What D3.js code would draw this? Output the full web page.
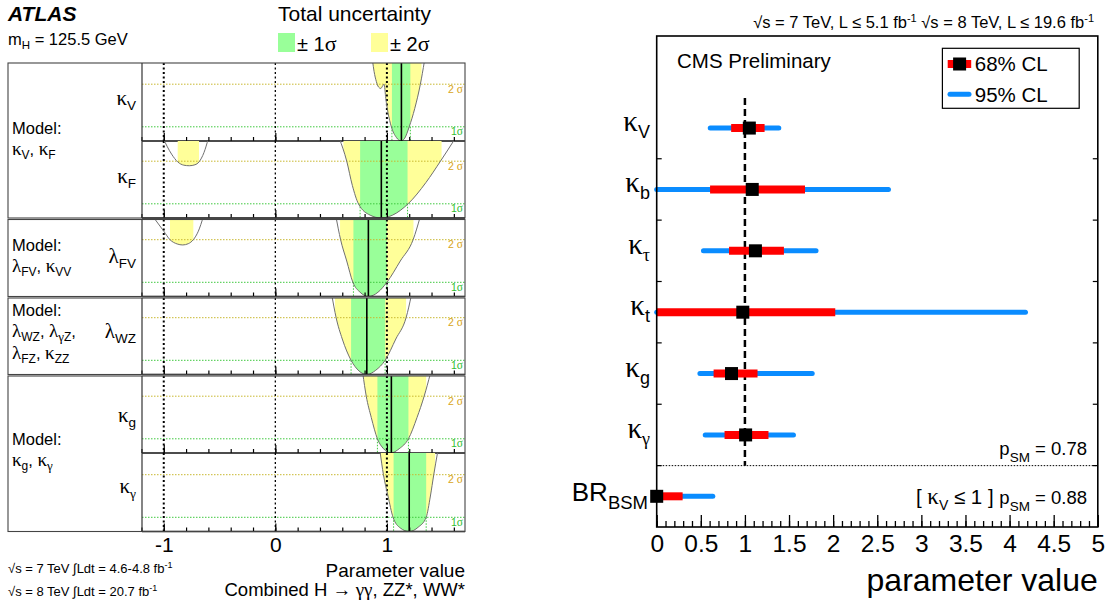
<!DOCTYPE html>
<html><head><meta charset="utf-8">
<script src="https://cdn.jsdelivr.net/npm/d3@7"></script>
<style>body{margin:0;background:#fff}svg{display:block}text{font-family:"Liberation Sans",Arial,sans-serif}</style>
</head><body><svg id="c" width="1113" height="605"></svg>
<script>
// ---------------- ATLAS data ----------------
const atlasParams = ["κV", "κF", "λFV", "λWZ", "κg", "κγ"];
const atlasBest = [1.13, 0.95, 0.834, 0.82, 1.04, 1.20];
const atlasOneSigma = [[[1.045, 1.21]], [[0.76, 1.185]], [[0.70, 1.0]], [[0.679, 0.984]], [[0.915, 1.193]], [[1.06, 1.352]]];
const atlasTwoSigma = [[[0.87, 1.31]], [[-0.875, -0.684], [0.61, 1.49]], [[-0.944, -0.735], [0.58, 1.238]], [[0.535, 1.172]], [[0.795, 1.352]], [[0.945, 1.432]]];
const atlasScanKV = [[[0.872, 5.6], [0.885, 4.9], [0.905, 4.2], [0.925, 3.8], [0.945, 3.7], [0.96, 3.85], [0.975, 4.0], [0.99, 3.0], [1.01, 2.0], [1.04, 1.0], [1.085, 0.25], [1.127, 0], [1.16, 0.2], [1.20, 1.0], [1.25, 2.3], [1.30, 4.0], [1.336, 5.6]]];
const atlasScanKF = [[[-1.005, 5.6], [-0.93, 4.5], [-0.875, 3.95], [-0.82, 3.72], [-0.771, 3.68], [-0.72, 3.75], [-0.684, 3.95], [-0.64, 4.6], [-0.60, 5.6]],
                     [[0.574, 5.6], [0.64, 4.0], [0.69, 2.3], [0.745, 1.0], [0.85, 0.2], [0.95, 0], [1.05, 0.2], [1.19, 1.0], [1.35, 2.5], [1.48, 4.0], [1.612, 5.6]]];
const atlasScanLFV = [[[-1.094, 5.6], [-1.0, 4.6], [-0.944, 4.0], [-0.88, 3.7], [-0.83, 3.63], [-0.78, 3.72], [-0.735, 4.0], [-0.69, 4.6], [-0.646, 5.6]],
                      [[0.544, 5.6], [0.585, 4.0], [0.64, 2.5], [0.695, 1.0], [0.76, 0.3], [0.834, 0], [0.92, 0.3], [1.0, 1.0], [1.12, 2.5], [1.235, 4.0], [1.298, 5.6]]];
const atlasScanLWZ = [[[0.506, 5.6], [0.545, 4.0], [0.60, 2.5], [0.679, 1.0], [0.75, 0.25], [0.82, 0], [0.90, 0.3], [0.984, 1.0], [1.08, 2.5], [1.172, 4.0], [1.22, 5.6]]];
const atlasScanKG = [[[0.784, 5.6], [0.815, 4.0], [0.86, 2.5], [0.915, 1.0], [0.97, 0.3], [1.035, 0], [1.11, 0.3], [1.193, 1.0], [1.27, 2.5], [1.334, 4.0], [1.39, 5.6]]];
const atlasScanKGam = [[[0.939, 5.6], [0.969, 4.0], [1.01, 2.5], [1.055, 1.0], [1.12, 0.25], [1.20, 0], [1.28, 0.3], [1.352, 1.0], [1.39, 2.5], [1.42, 4.0], [1.455, 5.6]]];
const atlasScans = [atlasScanKV, atlasScanKF, atlasScanLFV, atlasScanLWZ, atlasScanKG, atlasScanKGam];
const atlasSMValues = [-1, 0, 1];
const atlasTickLabels = ["-1", "0", "1"];
const atlasSigmaLevels = [1, 4];

// ---------------- CMS data ----------------
const cmsCats = ["κV", "κb", "κτ", "κt", "κg", "κγ", "BRBSM"];
const cmsBest = [1.05, 1.083, 1.119, 0.976, 0.848, 1.008, 0.0];
const cms68Lo = [0.844, 0.605, 0.82, 0.0, 0.645, 0.769, 0.0];
const cms68Hi = [1.223, 1.681, 1.442, 2.024, 1.143, 1.267, 0.294];
const cms95Lo = [0.607, 0.0, 0.53, 0.0, 0.49, 0.55, 0.0];
const cms95Hi = [1.384, 2.627, 1.806, 4.18, 1.763, 1.55, 0.636];
const cmsTicks = [0, 0.5, 1, 1.5, 2, 2.5, 3, 3.5, 4, 4.5, 5];

// ---------------- helpers ----------------
const SERIF = "'Liberation Serif','Times New Roman',serif";
const SANS = "'Liberation Sans',Arial,sans-serif";
const svg = d3.select("#c");
function rich(sel, x, y, parts, anchor) {
  const t = sel.append("text").attr("x", x).attr("y", y).attr("text-anchor", anchor || "start");
  let cur = 0;
  parts.forEach(p => {
    const ts = t.append("tspan").text(p.t).attr("font-size", p.s).attr("font-family", p.f || SANS);
    const d = (p.dy || 0) - cur;
    if (d) ts.attr("dy", d);
    if (p.dx) ts.attr("dx", p.dx);
    cur = p.dy || 0;
  });
  return t;
}

// ================= ATLAS panel =================
const A = svg.append("g");
const ax = d3.scaleLinear().domain([-1.195, 1.7]).range([142, 465]);
const rowBox = [[63, 141], [141, 218], [219.5, 296.5], [298, 374.5], [376, 453], [453, 531.5]];
const groupBox = [[63, 218], [219.5, 296.5], [298, 374.5], [376, 531.5]];
const YEL = "#ffff99", GRN = "#99ff99";

A.append("text").attr("x", 8).attr("y", 21).attr("font-size", 21).attr("font-weight", "bold").attr("font-style", "italic").text("ATLAS");
rich(A, 8, 45, [{t: "m", s: 16.5}, {t: "H", s: 11.5, dy: 4}, {t: " = 125.5 GeV", s: 16.5, dy: 0}]);
A.append("text").attr("x", 278).attr("y", 21).attr("font-size", 21).text("Total uncertainty");
A.append("rect").attr("x", 278).attr("y", 33).attr("width", 17).attr("height", 19).attr("fill", GRN);
A.append("rect").attr("x", 371).attr("y", 33).attr("width", 17).attr("height", 19).attr("fill", YEL);
rich(A, 297, 51, [{t: "± 1", s: 20}, {t: "σ", s: 22, f: SERIF}]);
rich(A, 390, 51, [{t: "± 2", s: 20}, {t: "σ", s: 22, f: SERIF}]);

const defs = svg.append("defs");
rowBox.forEach((rb, i) => {
  const [top, bot] = rb;
  const ys = d3.scaleLinear().domain([0, 1]).range([bot, bot - 14.2]);
  const g = A.append("g");
  const pid = "panel" + i;
  defs.append("clipPath").attr("id", pid).append("rect").attr("x", 142).attr("y", top).attr("width", 323).attr("height", bot - top);
  const pg = g.append("g").attr("clip-path", `url(#${pid})`);
  const area = d3.area().x(d => ax(d[0])).y0(top).y1(d => ys(d[1])).curve(d3.curveMonotoneX);
  const line = d3.line().x(d => ax(d[0])).y(d => ys(d[1])).curve(d3.curveMonotoneX);
  const fillBand = (intervals, color, tag) => intervals.forEach((iv, k) => {
    const cid = `c${tag}${i}_${k}`;
    defs.append("clipPath").attr("id", cid).append("rect")
      .attr("x", ax(iv[0])).attr("y", top).attr("width", ax(iv[1]) - ax(iv[0])).attr("height", bot - top);
    const gg = pg.append("g").attr("clip-path", `url(#${cid})`);
    atlasScans[i].forEach(seg => gg.append("path").attr("d", area(seg)).attr("fill", color));
  });
  fillBand(atlasTwoSigma[i], YEL, "y");
  fillBand(atlasOneSigma[i], GRN, "g");
  atlasSigmaLevels.forEach(lv => {
    const col = lv === 1 ? "#3fc83f" : "#c8b830";
    pg.append("line").attr("x1", 142).attr("x2", 465).attr("y1", ys(lv)).attr("y2", ys(lv))
      .attr("stroke", col).attr("stroke-width", 1).attr("stroke-dasharray", "1.5,1.5");
    g.append("text").attr("x", 463).attr("y", ys(lv) + 8.5).attr("text-anchor", "end").attr("font-size", 10.5)
      .attr("fill", lv === 1 ? "#33c033" : "#d8a520").text(lv === 1 ? "1" : "2 ").append("tspan").attr("font-family", SERIF).attr("font-size", 11.5).text("σ");
  });
  atlasOneSigma[i].forEach(iv => iv.forEach(v => {
    pg.append("line").attr("x1", ax(v)).attr("x2", ax(v)).attr("y1", ys(1)).attr("y2", bot)
      .attr("stroke", "#3fc83f").attr("stroke-width", 1).attr("stroke-dasharray", "1.5,1.5");
  }));
  atlasSMValues.forEach(v => {
    pg.append("line").attr("x1", ax(v)).attr("x2", ax(v)).attr("y1", top).attr("y2", bot)
      .attr("stroke", "#000").attr("stroke-width", v === 0 ? 1.3 : 2).attr("stroke-dasharray", "2,2.5");
  });
  atlasScans[i].forEach(seg => pg.append("path").attr("d", line(seg)).attr("fill", "none").attr("stroke", "#707070").attr("stroke-width", 1));
  pg.append("line").attr("x1", ax(atlasBest[i])).attr("x2", ax(atlasBest[i])).attr("y1", top).attr("y2", bot)
    .attr("stroke", "#000").attr("stroke-width", 1.6);
  const major = d3.axisBottom(ax).tickValues(atlasSMValues).tickSizeInner(-8).tickSizeOuter(0)
    .tickFormat((d, k) => i === rowBox.length - 1 ? atlasTickLabels[k] : "").tickPadding(6);
  const minor = d3.axisBottom(ax).tickValues(d3.range(-12, 17, 2).map(d => d / 10)).tickSizeInner(-4).tickSizeOuter(0).tickFormat("");
  const ga = g.append("g").attr("transform", `translate(0,${bot})`).call(major);
  const gm = g.append("g").attr("transform", `translate(0,${bot})`).call(minor);
  [ga, gm].forEach(s => { s.select(".domain").remove(); s.selectAll("line").attr("stroke", "#000").attr("stroke-width", 1.2); });
  ga.selectAll("text").attr("font-size", 21).attr("font-family", SANS).attr("fill", "#000");
  g.append("line").attr("x1", 142).attr("x2", 465).attr("y1", bot).attr("y2", bot).attr("stroke", "#111").attr("stroke-width", 1.3);
});
groupBox.forEach(gb => {
  A.append("rect").attr("x", 8).attr("y", gb[0]).attr("width", 457).attr("height", gb[1] - gb[0])
    .attr("fill", "none").attr("stroke", "#444").attr("stroke-width", 1.1);
  A.append("line").attr("x1", 142).attr("x2", 142).attr("y1", gb[0]).attr("y2", gb[1]).attr("stroke", "#333").attr("stroke-width", 1.2);
});
const rowLabelY = [105, 183, 263, 338, 422, 493];
atlasParams.forEach((p, i) => {
  rich(A, 136, rowLabelY[i], [{t: p[0], s: 21, f: SERIF}, {t: p.slice(1), s: 13.5, dy: 5, f: p[1] === "γ" ? SERIF : SANS}], "end");
});
const ML = 16.5, MS = 12, MG = 19;
A.append("text").attr("x", 12).attr("y", 134).attr("font-size", ML).text("Model:");
rich(A, 12, 155, [{t: "κ", s: MG, f: SERIF}, {t: "V", s: MS, dy: 4}, {t: ", ", s: ML, dy: 0}, {t: "κ", s: MG, f: SERIF}, {t: "F", s: MS, dy: 4}]);
A.append("text").attr("x", 12).attr("y", 251).attr("font-size", ML).text("Model:");
rich(A, 12, 272, [{t: "λ", s: MG, f: SERIF}, {t: "FV", s: MS, dy: 4}, {t: ", ", s: ML, dy: 0}, {t: "κ", s: MG, f: SERIF}, {t: "VV", s: MS, dy: 4}]);
A.append("text").attr("x", 12).attr("y", 316).attr("font-size", ML).text("Model:");
rich(A, 12, 337, [{t: "λ", s: MG, f: SERIF}, {t: "WZ", s: MS, dy: 4}, {t: ", ", s: ML, dy: 0}, {t: "λ", s: MG, f: SERIF}, {t: "γ", s: MS + 1, dy: 4, f: SERIF}, {t: "Z", s: MS, dy: 4}, {t: ",", s: ML, dy: 0}]);
rich(A, 12, 359, [{t: "λ", s: MG, f: SERIF}, {t: "FZ", s: MS, dy: 4}, {t: ", ", s: ML, dy: 0}, {t: "κ", s: MG, f: SERIF}, {t: "ZZ", s: MS, dy: 4}]);
A.append("text").attr("x", 12).attr("y", 445).attr("font-size", ML).text("Model:");
rich(A, 12, 466, [{t: "κ", s: MG, f: SERIF}, {t: "g", s: MS, dy: 4}, {t: ", ", s: ML, dy: 0}, {t: "κ", s: MG, f: SERIF}, {t: "γ", s: MS + 1, dy: 4, f: SERIF}]);
A.append("text").attr("x", 465).attr("y", 577).attr("text-anchor", "end").attr("font-size", 19).text("Parameter value");
rich(A, 465, 596, [{t: "Combined H ", s: 18.5}, {t: "→", s: 18.5, f: SERIF}, {t: " γγ", s: 19, f: SERIF}, {t: ", ZZ*, WW*", s: 18.5}], "end");
rich(A, 8, 573, [{t: "√s = 7 TeV ∫Ldt = 4.6-4.8 fb", s: 13}, {t: "-1", s: 9, dy: -5}]);
rich(A, 8, 596, [{t: "√s = 8 TeV ∫Ldt = 20.7 fb", s: 13}, {t: "-1", s: 9, dy: -5}]);

// ================= CMS panel =================
const C = svg.append("g");
const X0 = 656.7, X1 = 1097.8, Y0 = 36, Y1 = 527;
const cx = d3.scaleLinear().domain([0, 5]).range([X0, X1]);
const cy = d3.scaleBand().domain(["_top", ...cmsCats]).range([Y0, Y1]).padding(0);
const yc = c => cy(c) + cy.bandwidth() / 2;

rich(C, 1094, 28, [{t: "√s = 7 TeV, L ≤ 5.1 fb", s: 16.5}, {t: "-1", s: 11, dy: -6}, {t: "  √s = 8 TeV, L ≤ 19.6 fb", s: 16.5, dy: 0}, {t: "-1", s: 11, dy: -6}], "end");

C.append("line").attr("x1", X0).attr("x2", X1).attr("y1", cy("BRBSM")).attr("y2", cy("BRBSM"))
  .attr("stroke", "#000").attr("stroke-width", 1).attr("stroke-dasharray", "1.5,1.5");
C.append("line").attr("x1", cx(1)).attr("x2", cx(1)).attr("y1", 98).attr("y2", cy("BRBSM"))
  .attr("stroke", "#000").attr("stroke-width", 2.5).attr("stroke-dasharray", "7,4");

cmsCats.forEach((c, i) => {
  const y = yc(c);
  C.append("line").attr("x1", cx(cms95Lo[i])).attr("x2", cx(cms95Hi[i])).attr("y1", y).attr("y2", y)
    .attr("stroke", "#0a8cff").attr("stroke-width", 5).attr("stroke-linecap", "round");
  C.append("line").attr("x1", cx(cms68Lo[i])).attr("x2", cx(cms68Hi[i])).attr("y1", y).attr("y2", y)
    .attr("stroke", "#ff0000").attr("stroke-width", 8);
  C.append("rect").attr("x", cx(cmsBest[i]) - 6.5).attr("y", y - 6.5).attr("width", 13).attr("height", 13).attr("fill", "#000");
});
cmsCats.forEach((c, i) => {
  const y = yc(c);
  if (c === "BRBSM") {
    rich(C, 648, y + 5, [{t: "BR", s: 26}, {t: "BSM", s: 18.5, dy: 8}], "end");
  } else {
    rich(C, 650, y + 3, [{t: c[0], s: 29, f: SERIF}, {t: c.slice(1), s: 18, dy: 7, f: c[1] === "τ" || c[1] === "γ" ? SERIF : SANS}], "end");
  }
});
C.append("rect").attr("x", X0).attr("y", Y0).attr("width", X1 - X0).attr("height", Y1 - Y0).attr("fill", "none").attr("stroke", "#000").attr("stroke-width", 1.6);
cmsCats.slice(1).forEach(c => {
  const y = cy(c);
  C.append("line").attr("x1", X0).attr("x2", X0 + 5).attr("y1", y).attr("y2", y).attr("stroke", "#000").attr("stroke-width", 1.2);
  C.append("line").attr("x1", X1 - 5).attr("x2", X1).attr("y1", y).attr("y2", y).attr("stroke", "#000").attr("stroke-width", 1.2);
});
const cMaj = d3.axisBottom(cx).tickValues(cmsTicks).tickSizeInner(-12).tickSizeOuter(0).tickPadding(8).tickFormat(d3.format("~g"));
const cMin = d3.axisBottom(cx).tickValues(d3.range(0, 51).map(d => d / 10)).tickSizeInner(-6).tickSizeOuter(0).tickFormat("");
const gcM = C.append("g").attr("transform", `translate(0,${Y1})`).call(cMaj);
const gcm = C.append("g").attr("transform", `translate(0,${Y1})`).call(cMin);
[gcM, gcm].forEach(s => { s.select(".domain").remove(); s.selectAll("line").attr("stroke", "#000").attr("stroke-width", 1.3); });
gcM.selectAll("text").attr("font-size", 24.5).attr("font-family", SANS).attr("fill", "#000");
C.append("text").attr("x", X1).attr("y", 591).attr("text-anchor", "end").attr("font-size", 32).text("parameter value");

C.append("text").attr("x", 677).attr("y", 68).attr("font-size", 20.5).text("CMS Preliminary");
rich(C, 1087, 455, [{t: "p", s: 18.5}, {t: "SM", s: 13.5, dy: 7}, {t: " = 0.78", s: 18.5, dy: 0}], "end");
rich(C, 1087, 504, [{t: "[ ", s: 20.5}, {t: "κ", s: 23, f: SERIF}, {t: "V", s: 14, dy: 6}, {t: " ≤ 1 ]   ", s: 20.5, dy: 0}, {t: "p", s: 18.5}, {t: "SM", s: 13.5, dy: 7}, {t: " = 0.88", s: 18.5, dy: 0}], "end");

C.append("rect").attr("x", 942.4).attr("y", 48.3).attr("width", 136.8).attr("height", 60).attr("fill", "#fff").attr("stroke", "#000").attr("stroke-width", 1.2);
C.append("line").attr("x1", 947.7).attr("x2", 971.2).attr("y1", 64).attr("y2", 64).attr("stroke", "#ff0000").attr("stroke-width", 8);
C.append("rect").attr("x", 953.1).attr("y", 57.5).attr("width", 13).attr("height", 13).attr("fill", "#000");
C.append("line").attr("x1", 950).attr("x2", 969).attr("y1", 94.3).attr("y2", 94.3).attr("stroke", "#0a8cff").attr("stroke-width", 5).attr("stroke-linecap", "round");
C.append("text").attr("x", 974.8).attr("y", 71).attr("font-size", 20.5).text("68% CL");
C.append("text").attr("x", 974.8).attr("y", 101.5).attr("font-size", 20.5).text("95% CL");
</script></body></html>
